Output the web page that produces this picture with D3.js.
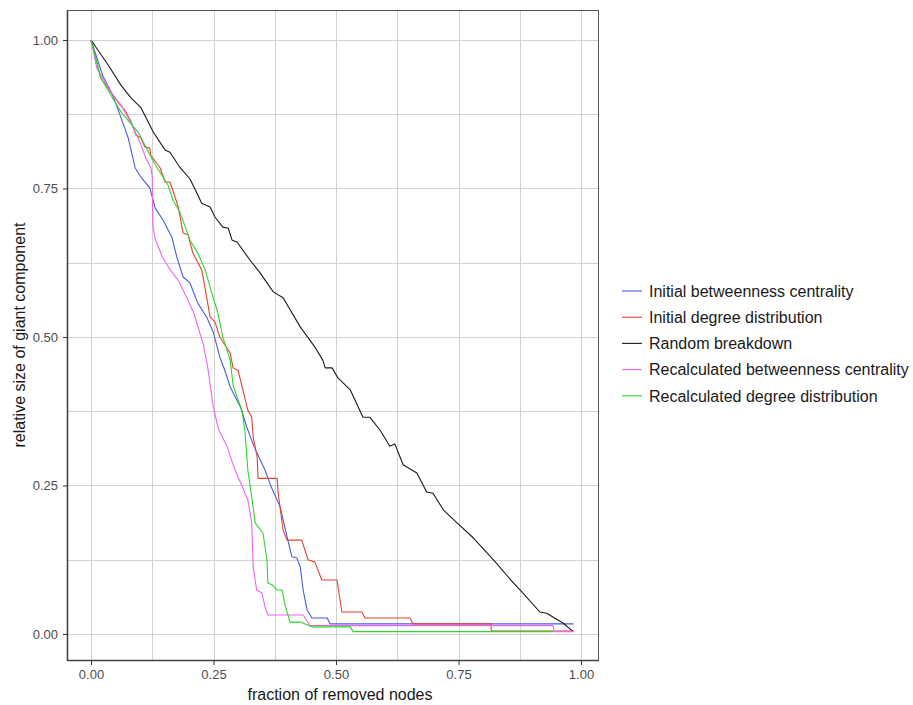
<!DOCTYPE html>
<html lang="en">
  <head>
    <meta charset="utf-8">
    <title>Giant component breakdown</title>
    <script src="https://d3js.org/d3.v7.min.js"></script>
    <style>
      body {
        margin: 0px;
        padding: 0px;
        background: #fff;
        font-family: 'Liberation Sans', Arial, sans-serif;
      }
      .axis path { display: none; }
      .axis line { stroke: #333; }
      .axis text { font-size: 13px; fill: #4d4d4d; }
      .grid line { stroke: #d2d2d2; stroke-width: 1; shape-rendering: crispEdges; }
      .legend text { font-size: 16px; fill: #1a1a1a; }
    </style>
  </head>
  <body>
    <div id="chart"></div>
    <script>
    // series names and colours (legend order)
    var seriesNames = ["Initial betweenness centrality", "Initial degree distribution",
                       "Random breakdown", "Recalculated betweenness centrality",
                       "Recalculated degree distribution"];
    var seriesColors = ["#4b5ae6", "#e4432f", "#1a1a1a", "#ef63ef", "#2fd52f"];

    // tick values
    var xTicks = [0, 0.25, 0.5, 0.75, 1];
    var yTicks = [0, 0.25, 0.5, 0.75, 1];
    var minorTicks = [0.125, 0.375, 0.625, 0.875];

    // values: [fraction removed, relative size]
    var initBetweenness = [[0,1],[0.024,0.94],[0.045,0.906],[0.063,0.865],[0.076,0.835],[0.09,0.785],
      [0.102,0.769],[0.12,0.751],[0.131,0.717],[0.147,0.697],[0.165,0.668],[0.175,0.635],[0.188,0.601],
      [0.202,0.591],[0.218,0.557],[0.237,0.532],[0.25,0.507],[0.263,0.466],[0.273,0.444],[0.284,0.416],
      [0.306,0.38],[0.318,0.348],[0.333,0.315],[0.355,0.276],[0.367,0.249],[0.386,0.214],[0.4,0.164],
      [0.41,0.13],[0.42,0.128],[0.427,0.113],[0.433,0.074],[0.441,0.04],[0.451,0.027],[0.482,0.027],
      [0.488,0.017],[0.985,0.017]];

    var initDegree = [[0,1],[0.02,0.936],[0.045,0.907],[0.059,0.891],[0.069,0.882],[0.082,0.862],
      [0.092,0.84],[0.102,0.835],[0.11,0.82],[0.12,0.818],[0.122,0.806],[0.141,0.785],[0.151,0.761],
      [0.161,0.761],[0.167,0.747],[0.178,0.719],[0.188,0.675],[0.198,0.672],[0.208,0.641],[0.226,0.613],
      [0.236,0.567],[0.243,0.534],[0.253,0.525],[0.263,0.5],[0.273,0.487],[0.284,0.473],[0.29,0.448],
      [0.3,0.444],[0.31,0.411],[0.32,0.377],[0.328,0.365],[0.331,0.332],[0.339,0.298],[0.341,0.262],
      [0.38,0.262],[0.382,0.237],[0.392,0.175],[0.4,0.158],[0.43,0.158],[0.443,0.125],[0.457,0.121],
      [0.471,0.091],[0.502,0.091],[0.512,0.037],[0.553,0.037],[0.559,0.027],[0.651,0.027],[0.657,0.017],
      [0.816,0.017],[0.817,0.005],[0.985,0.005]];

    var randomBreak = [[0,1],[0.035,0.958],[0.061,0.924],[0.082,0.902],[0.102,0.886],[0.127,0.845],
      [0.151,0.815],[0.161,0.811],[0.182,0.785],[0.202,0.766],[0.226,0.725],[0.243,0.719],[0.253,0.702],
      [0.269,0.685],[0.28,0.683],[0.288,0.663],[0.298,0.66],[0.324,0.63],[0.345,0.608],[0.372,0.576],
      [0.392,0.566],[0.427,0.517],[0.457,0.483],[0.473,0.461],[0.478,0.448],[0.492,0.448],[0.504,0.431],
      [0.529,0.411],[0.555,0.365],[0.569,0.365],[0.59,0.343],[0.61,0.316],[0.62,0.32],[0.637,0.285],
      [0.665,0.271],[0.685,0.239],[0.698,0.237],[0.719,0.209],[0.747,0.187],[0.78,0.162],[0.821,0.125],
      [0.862,0.086],[0.876,0.074],[0.916,0.037],[0.93,0.035],[0.964,0.018],[0.984,0.004]];

    var recalcBetweenness = [[0,1],[0.012,0.952],[0.024,0.936],[0.045,0.907],[0.061,0.891],[0.082,0.86],
      [0.1,0.828],[0.112,0.801],[0.122,0.785],[0.125,0.77],[0.126,0.69],[0.131,0.665],[0.145,0.636],
      [0.16,0.615],[0.18,0.593],[0.196,0.565],[0.21,0.54],[0.222,0.507],[0.229,0.488],[0.238,0.45],
      [0.249,0.385],[0.26,0.345],[0.278,0.315],[0.292,0.28],[0.305,0.255],[0.32,0.226],[0.328,0.187],
      [0.331,0.113],[0.338,0.074],[0.349,0.069],[0.355,0.046],[0.361,0.032],[0.433,0.032],[0.447,0.014],
      [0.943,0.014],[0.945,0.004],[0.985,0.004]];

    var recalcDegree = [[0,1],[0.02,0.936],[0.061,0.879],[0.096,0.845],[0.131,0.79],[0.157,0.756],
      [0.167,0.731],[0.182,0.709],[0.202,0.663],[0.218,0.641],[0.233,0.613],[0.249,0.567],[0.259,0.54],
      [0.269,0.5],[0.273,0.49],[0.284,0.461],[0.29,0.419],[0.298,0.399],[0.308,0.377],[0.314,0.343],
      [0.32,0.276],[0.328,0.231],[0.335,0.187],[0.351,0.17],[0.359,0.125],[0.361,0.086],[0.371,0.082],
      [0.38,0.074],[0.39,0.074],[0.396,0.049],[0.406,0.02],[0.427,0.02],[0.451,0.012],[0.529,0.012],
      [0.535,0.004],[0.943,0.004]];

    var allSeries = [initBetweenness, initDegree, randomBreak, recalcBetweenness, recalcDegree];

    var width = 913, height = 705;
    var panel = {left: 67, right: 598, top: 10, bottom: 660};

    var svg = d3.select("#chart")
      .append("svg")
        .attr("width", width)
        .attr("height", height);

    // scales (ggplot style 5% expansion)
    var x = d3.scaleLinear()
      .domain([-0.049, 1.0347])
      .range([panel.left, panel.right]);
    var y = d3.scaleLinear()
      .domain([-0.0438, 1.0505])
      .range([panel.bottom, panel.top]);

    // grid, minor + major
    var grid = svg.append("g").attr("class", "grid");
    grid.selectAll(".vx")
      .data(minorTicks.concat(xTicks))
      .enter().append("line")
        .attr("x1", function(d) { return Math.round(x(d)) + 0.5; })
        .attr("x2", function(d) { return Math.round(x(d)) + 0.5; })
        .attr("y1", panel.top)
        .attr("y2", panel.bottom);
    grid.selectAll(".hy")
      .data(minorTicks.concat(yTicks))
      .enter().append("line")
        .attr("y1", function(d) { return Math.round(y(d)) + 0.5; })
        .attr("y2", function(d) { return Math.round(y(d)) + 0.5; })
        .attr("x1", panel.left)
        .attr("x2", panel.right);

    // the lines
    var line = d3.line()
      .x(function(d) { return x(d[0]); })
      .y(function(d) { return y(d[1]); });

    svg.selectAll(".series")
      .data(allSeries)
      .enter().append("path")
        .attr("class", "series")
        .attr("d", line)
        .attr("fill", "none")
        .attr("stroke", function(d, i) { return seriesColors[i]; })
        .attr("stroke-width", 1.1)
        .attr("stroke-linejoin", "round");

    // panel border
    svg.append("rect")
      .attr("x", panel.left + 0.5)
      .attr("y", panel.top + 0.5)
      .attr("width", panel.right - panel.left)
      .attr("height", panel.bottom - panel.top)
      .attr("fill", "none")
      .attr("stroke", "#555")
      .attr("stroke-width", 1);
    // heavier axis lines on left / bottom
    svg.append("line")
      .attr("x1", panel.left + 0.5).attr("x2", panel.left + 0.5)
      .attr("y1", panel.top).attr("y2", panel.bottom + 1)
      .attr("stroke", "#444").attr("stroke-width", 1.6);
    svg.append("line")
      .attr("x1", panel.left).attr("x2", panel.right + 1)
      .attr("y1", panel.bottom + 0.5).attr("y2", panel.bottom + 0.5)
      .attr("stroke", "#444").attr("stroke-width", 1.6);

    // axes
    svg.append("g")
      .attr("class", "axis")
      .attr("transform", "translate(0," + (panel.bottom + 1) + ")")
      .call(d3.axisBottom(x).tickValues(xTicks).tickFormat(d3.format(".2f")).tickSize(4).tickPadding(5));
    svg.append("g")
      .attr("class", "axis")
      .attr("transform", "translate(" + panel.left + ",0)")
      .call(d3.axisLeft(y).tickValues(yTicks).tickFormat(d3.format(".2f")).tickSize(4).tickPadding(5));

    // axis titles
    svg.append("text")
      .attr("x", 340)
      .attr("y", 700)
      .attr("text-anchor", "middle")
      .attr("font-size", "16px")
      .attr("fill", "#1a1a1a")
      .text("fraction of removed nodes");
    svg.append("text")
      .attr("transform", "translate(25," + ((panel.top + panel.bottom) / 2) + ") rotate(-90)")
      .attr("text-anchor", "middle")
      .attr("font-size", "16px")
      .attr("fill", "#1a1a1a")
      .text("relative size of giant component");

    // legend
    var legend = svg.append("g").attr("class", "legend");
    var rows = legend.selectAll("g")
      .data(seriesNames)
      .enter().append("g")
        .attr("transform", function(d, i) { return "translate(622," + (291 + i * 26.2) + ")"; });
    rows.append("line")
      .attr("x1", 0).attr("x2", 20)
      .attr("stroke", function(d, i) { return seriesColors[i]; })
      .attr("stroke-width", 1.1);
    rows.append("text")
      .attr("x", 27)
      .attr("dy", "0.36em")
      .text(function(d) { return d; });
    </script>
  </body>
</html>
